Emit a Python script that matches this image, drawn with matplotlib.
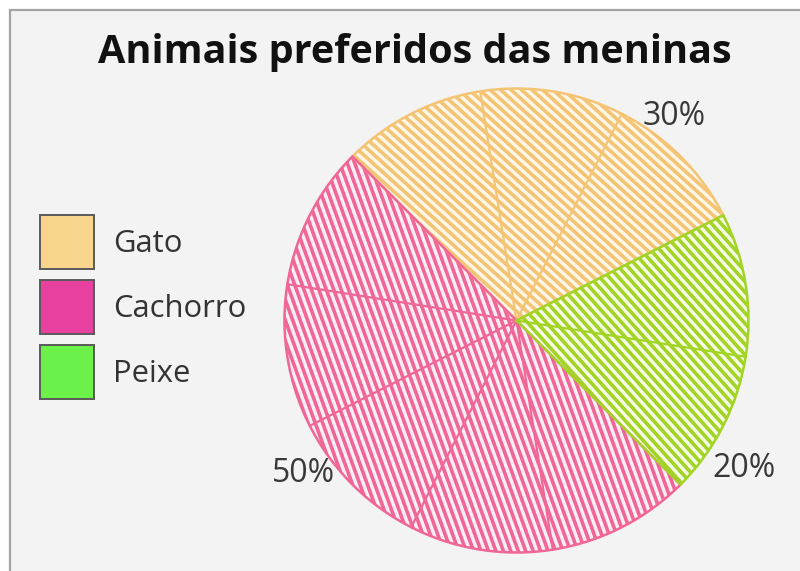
import numpy as np
import matplotlib
matplotlib.use("Agg")
import matplotlib.pyplot as plt
from matplotlib.patches import Rectangle, Wedge
from matplotlib.collections import LineCollection

# Data
categories = ["Gato", "Cachorro", "Peixe"]
percentages = [30, 50, 20]
title = "Animais preferidos das meninas"

# Styling
stripe_colors = ["#F4C475", "#F06696", "#A2D425"]
gap_colors = ["#FFF6E8", "#FFEFF4", "#F6FCE6"]
legend_colors = ["#F8D48C", "#E8409E", "#6CF04A"]
stripe_angles = [-42, -70, -48]          # hatch direction, degrees
label_pos = [(0.68, 0.88), (-0.92, -0.66), (0.98, -0.64)]

W, H, DPI = 800, 571, 100
plt.rcParams["font.family"] = ["Open Sans", "DejaVu Sans"]
fig = plt.figure(figsize=(W / DPI, H / DPI), dpi=DPI)
fig.patch.set_facecolor("white")


def fx(px):
    return px / W


def fy(py):
    return 1 - py / H


# Panel frame
fig.patches.append(Rectangle((fx(10), -0.05), 1.0, fy(10) + 0.05,
                             transform=fig.transFigure, facecolor="#F3F3F3",
                             edgecolor="#A3A3A3", linewidth=1.6, zorder=-10))

# Pie axes: centre at (516.5, 320.5) px, radius 232 px
R_PX, CX, CY = 232.0, 516.5, 320.5
LIM = 1.1
ax = fig.add_axes([fx(CX - LIM * R_PX), fy(CY + LIM * R_PX),
                   2 * LIM * R_PX / W, 2 * LIM * R_PX / H])
ax.set_zorder(2)

wedges, _ = ax.pie(percentages, startangle=27, counterclock=True,
                   colors=gap_colors, radius=1.0,
                   wedgeprops=dict(edgecolor="none", linewidth=0))
ax.set_xlim(-LIM, LIM)
ax.set_ylim(-LIM, LIM)
ax.set_aspect("equal")
ax.axis("off")

spacing = 7.0 / R_PX
for w, col, ang, pct in zip(wedges, stripe_colors, stripe_angles, percentages):
    t = np.deg2rad(ang)
    d = np.array([np.cos(t), np.sin(t)])
    n = np.array([-np.sin(t), np.cos(t)])
    segs = []
    for off in np.arange(-1.6, 1.6, spacing):
        p = off * n
        segs.append([p - 1.6 * d, p + 1.6 * d])
    lc = LineCollection(segs, colors=col, linewidths=2.6, zorder=3)
    lc.set_clip_path(w)
    ax.add_collection(lc)
    # 10% subdivision rays
    n_units = pct // 10
    step = (w.theta2 - w.theta1) / n_units
    for k in range(1, n_units):
        a = np.deg2rad(w.theta1 + k * step)
        ax.plot([0, np.cos(a)], [0, np.sin(a)], color=col, lw=1.6, zorder=4)
    # slice outline
    ax.add_patch(Wedge((0, 0), 1.0, w.theta1, w.theta2, facecolor="none",
                       edgecolor=col, linewidth=1.8, zorder=5))

for (x, y), pct in zip(label_pos, percentages):
    ax.text(x, y, f"{pct}%", fontsize=23, color="#383838",
            ha="center", va="center")

fig.text(fx(415), fy(53), title, fontsize=28.5, fontweight="bold",
         ha="center", va="center", color="#111111")

# Legend: swatches and labels
box = 54
tops = [215, 280, 345]
for top, c, name in zip(tops, legend_colors, categories):
    fig.patches.append(Rectangle((fx(40), fy(top + box)), box / W, box / H,
                                 transform=fig.transFigure, facecolor=c,
                                 edgecolor="#5A5A5A", linewidth=1.4, zorder=1))
    fig.text(fx(113), fy(top + box / 2 + 2), name, fontsize=22.3,
             color="#333333", ha="left", va="center")

fig.savefig("out.png", dpi=DPI)
